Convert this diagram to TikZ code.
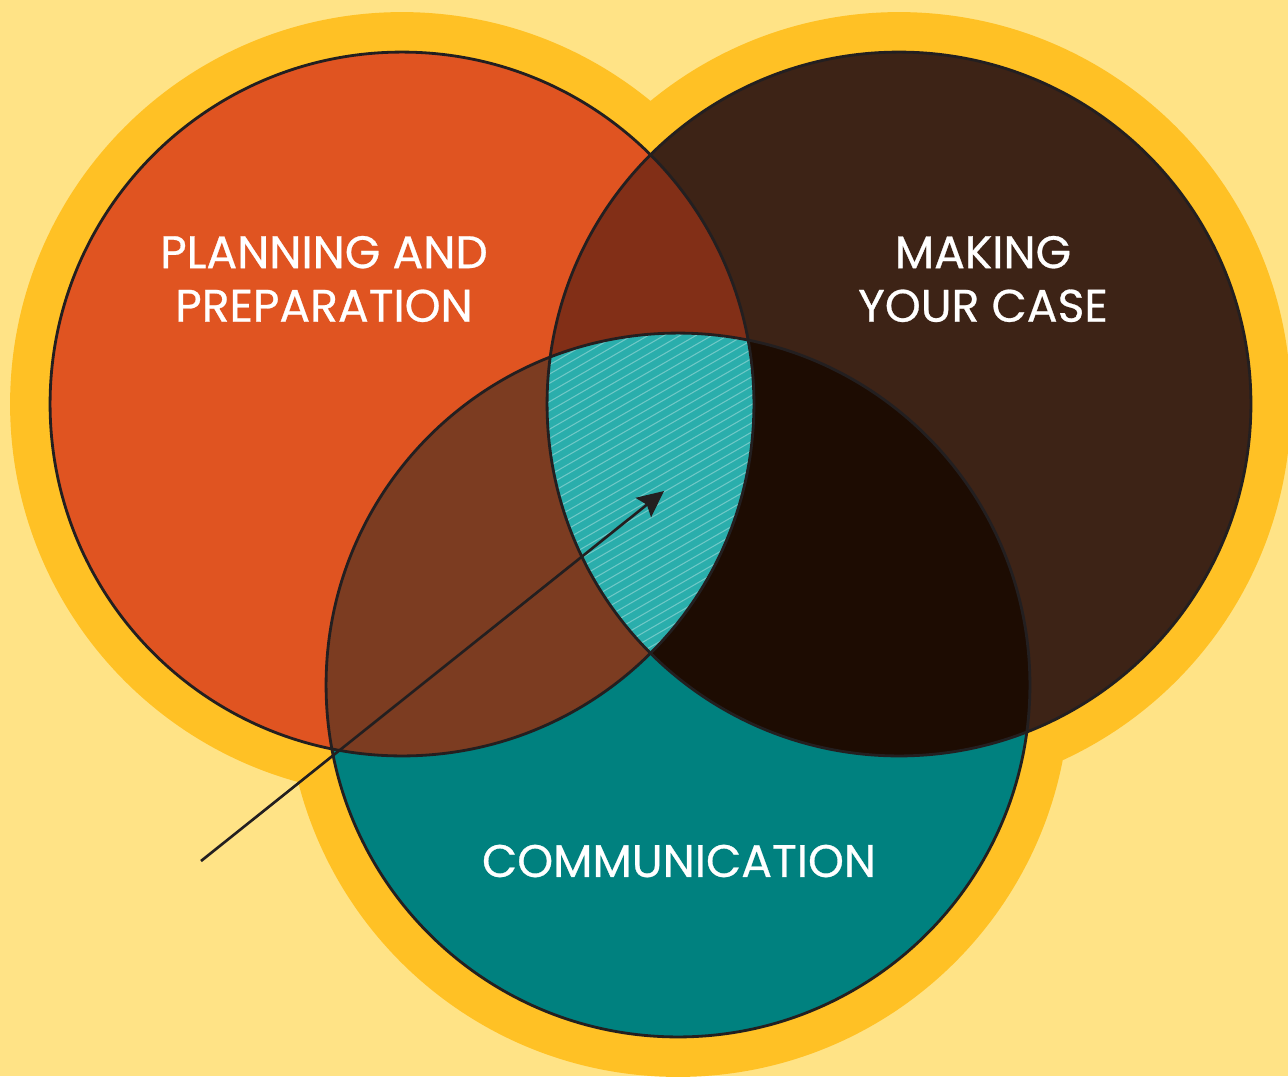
\documentclass[tikz,border=0pt]{standalone}
\usepackage{fontspec}
\setmainfont{Poppins}[FakeBold=0.6]
\usetikzlibrary{arrows.meta}
\definecolor{bgyellow}{HTML}{FFE386}
\definecolor{halo}{HTML}{FFC125}
\definecolor{cleft}{HTML}{E05421}
\definecolor{cright}{HTML}{3D2316}
\definecolor{cbottom}{HTML}{00817F}
\definecolor{clr}{HTML}{822F17}
\definecolor{clb}{HTML}{7C3C21}
\definecolor{crb}{HTML}{1D0C02}
\definecolor{call}{HTML}{2AAEAC}
\definecolor{outline}{HTML}{231F20}
\tikzset{
  label text/.style={text=white, font=\fontsize{26}{30.5}\selectfont, align=center, inner sep=0pt},
  ring/.style={draw=outline, line width=1.6pt},
}
\begin{document}
\begin{tikzpicture}[x=0.02cm,y=-0.02cm]
\fill[bgyellow] (0,0) rectangle (1288,1076);
\useasboundingbox (0,0) rectangle (1288,1076);
\coordinate (cL) at (402,404);
\coordinate (cR) at (899,404);
\coordinate (cB) at (678,685);
% halo
\begin{scope}
\clip (0,0) rectangle (1288,1076);
\fill[halo] (cL) circle[radius=7.84cm] (cR) circle[radius=7.84cm] (cB) circle[radius=7.84cm];
\end{scope}
% base circles
\fill[cleft] (cL) circle[radius=7.04cm];
\fill[cright] (cR) circle[radius=7.04cm];
\fill[cbottom] (cB) circle[radius=7.04cm];
% pairwise overlaps
\begin{scope}
\clip (cL) circle[radius=7.04cm];
\fill[clr] (cR) circle[radius=7.04cm];
\fill[clb] (cB) circle[radius=7.04cm];
\end{scope}
\begin{scope}
\clip (cR) circle[radius=7.04cm];
\fill[crb] (cB) circle[radius=7.04cm];
\end{scope}
% triple overlap with hatching
\begin{scope}
\clip (cL) circle[radius=7.04cm];
\clip (cR) circle[radius=7.04cm];
\clip (cB) circle[radius=7.04cm];
\fill[call] (cB) circle[radius=7.04cm];
\foreach \k in {-60,...,60}{
  \draw[white, opacity=0.33, line width=0.6pt] (650-300*0.866,500+300*0.5) ++(0,\k*9.2) -- ++(600*0.866,-600*0.5);
}
\end{scope}
% outlines
\draw[ring] (cL) circle[radius=7.04cm];
\draw[ring] (cR) circle[radius=7.04cm];
\draw[ring] (cB) circle[radius=7.04cm];
% labels
\node[label text] (plan) at (324,279) {PLANNING AND\\PREPARATION};
\node[label text] (case) at (983,279) {MAKING\\YOUR CASE};
\node[label text] (comm) at (679,861) {COMMUNICATION};
% arrow
\coordinate (arrowstart) at (201,861);
\coordinate (arrowend) at (664,491);
\draw[outline, line width=1.5pt, -{Stealth[length=15pt,width=14pt,inset=2.5pt]}] (arrowstart) -- (arrowend);
\end{tikzpicture}
\end{document}
